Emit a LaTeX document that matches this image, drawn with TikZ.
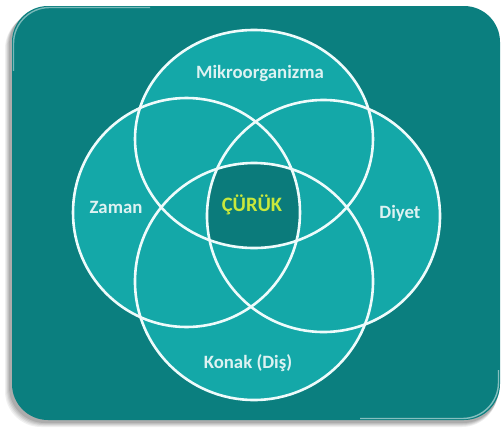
\documentclass[tikz,border=0pt]{standalone}
\usepackage{fontspec}
\setmainfont{Carlito}
\definecolor{bgteal}{HTML}{0B7F7F}
\definecolor{lightteal}{HTML}{14A8A8}
\definecolor{darkteal}{HTML}{0B7B7B}
\definecolor{linecol}{HTML}{EEFBFB}
\definecolor{txtcol}{HTML}{DDF2F2}
\definecolor{curukcol}{HTML}{C8E83C}
\tikzset{
  vennline/.style={draw=linecol, line width=2.6pt},
  vennlabel/.style={text=txtcol, font=\fontsize{18.8}{21}\selectfont\bfseries, inner sep=0pt},
  panel/.style={rounded corners=36pt}
}
\begin{document}
\begin{tikzpicture}[x=1pt,y=-1pt]
\useasboundingbox (0,0) rectangle (504,432);
% soft shadow
\foreach \s/\o in {7/0.06,6/0.06,5/0.08,4/0.08,3/0.1}{
  \fill[black, opacity=\o, panel] (12-\s,6+\s) rectangle (500-\s*0.3,420+\s);
}
% panel
\fill[bgteal, panel] (12,6) rectangle (500,420);
% gloss highlights on two corners
\begin{scope}
  \clip (0,0) rectangle (150,70);
  \draw[white, opacity=0.45, line width=1.4pt, panel] (13.5,7.5) rectangle (498.5,418.5);
\end{scope}
\begin{scope}
  \clip (360,370) rectangle (504,432);
  \draw[white, opacity=0.5, line width=1.4pt, panel] (13.5,7.5) rectangle (498.5,418.5);
\end{scope}
% light fill of all four regions
\fill[lightteal] (254,139) ellipse [x radius=119, y radius=109];
\fill[lightteal] (186.5,212.5) ellipse [x radius=113.5, y radius=114.5];
\fill[lightteal] (323.5,216) ellipse [x radius=116.5, y radius=116];
\fill[lightteal] (254,281.5) ellipse [x radius=119, y radius=118.5];
% dark centre (intersection of all four)
\begin{scope}
  \clip (254,139) ellipse [x radius=119, y radius=109];
  \clip (186.5,212.5) ellipse [x radius=113.5, y radius=114.5];
  \clip (323.5,216) ellipse [x radius=116.5, y radius=116];
  \fill[darkteal] (254,281.5) ellipse [x radius=119, y radius=118.5];
\end{scope}
% outlines
\draw[vennline] (254,139) ellipse [x radius=119, y radius=109];
\draw[vennline] (186.5,212.5) ellipse [x radius=113.5, y radius=114.5];
\draw[vennline] (323.5,216) ellipse [x radius=116.5, y radius=116];
\draw[vennline] (254,281.5) ellipse [x radius=119, y radius=118.5];
% labels
\node[vennlabel] (mikro) at (260,73) {Mikroorganizma};
\node[vennlabel] (zaman) at (116,207) {Zaman};
\node[vennlabel] (diyet) at (400,213) {Diyet};
\node[vennlabel] (konak) at (248,363) {Konak (Diş)};
\node[vennlabel, text=curukcol, font=\fontsize{20.5}{23}\selectfont\bfseries] (curuk) at (252,205) {ÇÜRÜK};
\end{tikzpicture}
\end{document}
